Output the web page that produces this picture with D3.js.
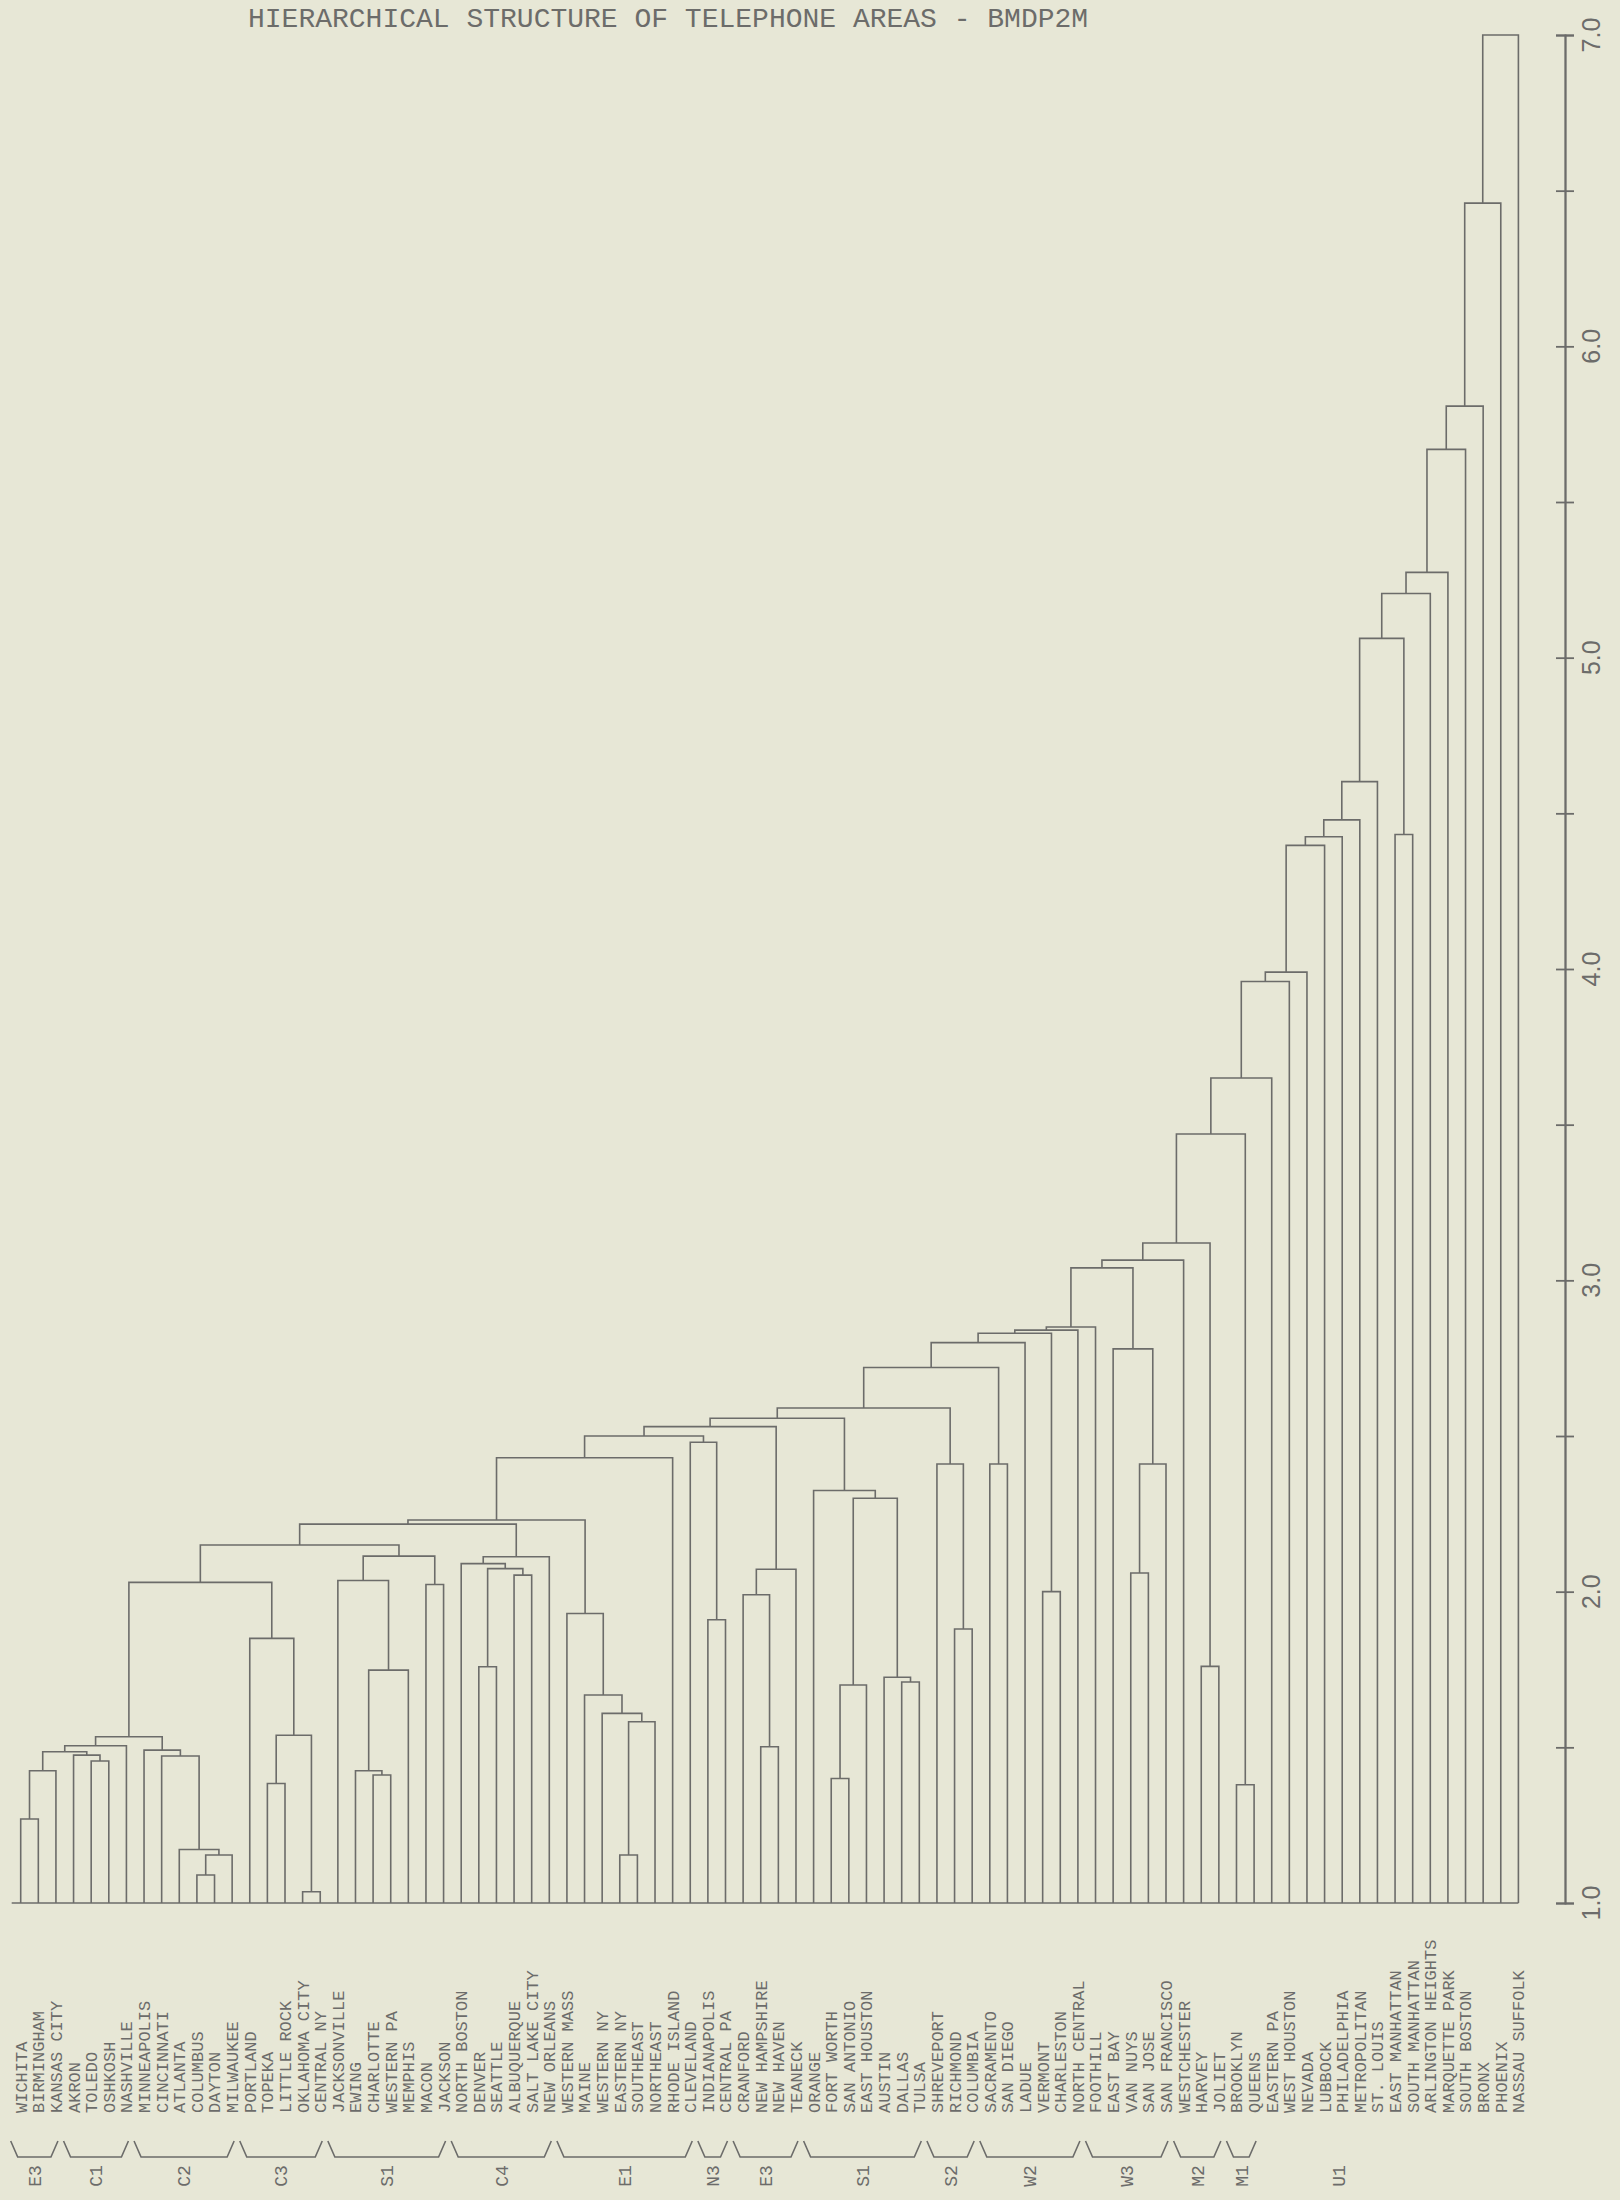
<!DOCTYPE html>
<html>
<head>
<meta charset="utf-8">
<script src="https://cdnjs.cloudflare.com/ajax/libs/d3/7.8.5/d3.min.js"></script>
<style>
  body { margin: 0; background: #e7e7d6; }
  svg { display: block; }
</style>
</head>
<body>
<div id="chart"></div>
<script>
// leaf order, left to right
const leaves = [
  "WICHITA", "BIRMINGHAM", "KANSAS CITY", "AKRON", "TOLEDO", "OSHKOSH", "NASHVILLE",
  "MINNEAPOLIS", "CINCINNATI", "ATLANTA", "COLUMBUS", "DAYTON", "MILWAUKEE",
  "PORTLAND", "TOPEKA", "LITTLE ROCK", "OKLAHOMA CITY", "CENTRAL NY",
  "JACKSONVILLE", "EWING", "CHARLOTTE", "WESTERN PA", "MEMPHIS", "MACON", "JACKSON",
  "NORTH BOSTON", "DENVER", "SEATTLE", "ALBUQUERQUE", "SALT LAKE CITY", "NEW ORLEANS",
  "WESTERN MASS", "MAINE", "WESTERN NY", "EASTERN NY", "SOUTHEAST", "NORTHEAST", "RHODE ISLAND",
  "CLEVELAND", "INDIANAPOLIS", "CENTRAL PA",
  "CRANFORD", "NEW HAMPSHIRE", "NEW HAVEN", "TEANECK",
  "ORANGE", "FORT WORTH", "SAN ANTONIO", "EAST HOUSTON", "AUSTIN", "DALLAS", "TULSA",
  "SHREVEPORT", "RICHMOND", "COLUMBIA",
  "SACRAMENTO", "SAN DIEGO", "LADUE", "VERMONT", "CHARLESTON", "NORTH CENTRAL",
  "FOOTHILL", "EAST BAY", "VAN NUYS", "SAN JOSE", "SAN FRANCISCO",
  "WESTCHESTER", "HARVEY", "JOLIET", "BROOKLYN", "QUEENS",
  "EASTERN PA", "WEST HOUSTON", "NEVADA", "LUBBOCK", "PHILADELPHIA", "METROPOLITAN",
  "ST. LOUIS", "EAST MANHATTAN", "SOUTH MANHATTAN", "ARLINGTON HEIGHTS",
  "MARQUETTE PARK", "SOUTH BOSTON", "BRONX", "PHOENIX", "NASSAU SUFFOLK"
];

// merges: [id, left, right, distance]
const merges = [
  ["a1", "WICHITA", "BIRMINGHAM", 1.27],
  ["a2", "a1", "KANSAS CITY", 1.425],
  ["a3", "TOLEDO", "OSHKOSH", 1.456],
  ["a4", "AKRON", "a3", 1.475],
  ["a5", "a2", "a4", 1.486],
  ["a6", "a5", "NASHVILLE", 1.505],
  ["b1", "COLUMBUS", "DAYTON", 1.09],
  ["b2", "b1", "MILWAUKEE", 1.154],
  ["b3", "ATLANTA", "b2", 1.172],
  ["b4", "CINCINNATI", "b3", 1.472],
  ["b5", "MINNEAPOLIS", "b4", 1.491],
  ["b6", "a6", "b5", 1.534],
  ["c1", "OKLAHOMA CITY", "CENTRAL NY", 1.036],
  ["c2", "TOPEKA", "LITTLE ROCK", 1.384],
  ["c3", "c2", "c1", 1.539],
  ["c4", "PORTLAND", "c3", 1.85],
  ["c5", "b6", "c4", 2.03],
  ["d1", "CHARLOTTE", "WESTERN PA", 1.411],
  ["d2", "EWING", "d1", 1.425],
  ["d3", "d2", "MEMPHIS", 1.748],
  ["d4", "JACKSONVILLE", "d3", 2.036],
  ["d5", "MACON", "JACKSON", 2.023],
  ["d6", "d4", "d5", 2.114],
  ["e1", "DENVER", "SEATTLE", 1.759],
  ["e2", "ALBUQUERQUE", "SALT LAKE CITY", 2.053],
  ["e3", "e1", "e2", 2.074],
  ["e4", "NORTH BOSTON", "e3", 2.09],
  ["e5", "e4", "NEW ORLEANS", 2.112],
  ["f1", "EASTERN NY", "SOUTHEAST", 1.154],
  ["f2", "f1", "NORTHEAST", 1.582],
  ["f3", "WESTERN NY", "f2", 1.609],
  ["f4", "MAINE", "f3", 1.668],
  ["f5", "WESTERN MASS", "f4", 1.93],
  ["g1", "c5", "d6", 2.15],
  ["g2", "g1", "e5", 2.217],
  ["g3", "g2", "f5", 2.23],
  ["g4", "g3", "RHODE ISLAND", 2.43],
  ["h1", "INDIANAPOLIS", "CENTRAL PA", 1.91],
  ["h2", "CLEVELAND", "h1", 2.48],
  ["i1", "NEW HAMPSHIRE", "NEW HAVEN", 1.502],
  ["i2", "CRANFORD", "i1", 1.99],
  ["i3", "i2", "TEANECK", 2.072],
  ["j1", "FORT WORTH", "SAN ANTONIO", 1.40],
  ["j2", "j1", "EAST HOUSTON", 1.70],
  ["j3", "DALLAS", "TULSA", 1.71],
  ["j4", "AUSTIN", "j3", 1.725],
  ["j5", "j2", "j4", 2.30],
  ["j6", "ORANGE", "j5", 2.325],
  ["k1", "RICHMOND", "COLUMBIA", 1.88],
  ["k2", "SHREVEPORT", "k1", 2.41],
  ["l1", "g4", "h2", 2.50],
  ["l2", "l1", "i3", 2.53],
  ["l3", "l2", "j6", 2.557],
  ["l4", "l3", "k2", 2.59],
  ["n1", "SACRAMENTO", "SAN DIEGO", 2.41],
  ["n2", "VERMONT", "CHARLESTON", 2.0],
  ["o1", "VAN NUYS", "SAN JOSE", 2.06],
  ["o2", "o1", "SAN FRANCISCO", 2.41],
  ["o3", "EAST BAY", "o2", 2.78],
  ["p1", "HARVEY", "JOLIET", 1.76],
  ["q1", "BROOKLYN", "QUEENS", 1.38],
  ["r1", "EAST MANHATTAN", "SOUTH MANHATTAN", 4.432],
  ["m2", "l4", "n1", 2.72],
  ["m3", "m2", "LADUE", 2.80],
  ["m4", "m3", "n2", 2.83],
  ["m5", "m4", "NORTH CENTRAL", 2.84],
  ["m6", "m5", "FOOTHILL", 2.85],
  ["m7", "m6", "o3", 3.04],
  ["m8", "m7", "WESTCHESTER", 3.065],
  ["m9", "m8", "p1", 3.12],
  ["m10", "m9", "q1", 3.47],
  ["m11", "m10", "EASTERN PA", 3.65],
  ["m12", "m11", "WEST HOUSTON", 3.96],
  ["m13", "m12", "NEVADA", 3.99],
  ["m14", "m13", "LUBBOCK", 4.397],
  ["m15", "m14", "PHILADELPHIA", 4.425],
  ["m16", "m15", "METROPOLITAN", 4.479],
  ["m17", "m16", "ST. LOUIS", 4.602],
  ["m18", "m17", "r1", 5.062],
  ["m19", "m18", "ARLINGTON HEIGHTS", 5.206],
  ["m20", "m19", "MARQUETTE PARK", 5.274],
  ["m21", "m20", "SOUTH BOSTON", 5.669],
  ["m22", "m21", "BRONX", 5.808],
  ["m23", "m22", "PHOENIX", 6.46],
  ["m24", "m23", "NASSAU SUFFOLK", 7.0]
];

// area groups under the labels
const groupLabels = ["E3", "C1", "C2", "C3", "S1", "C4", "E1", "N3", "E3", "S1", "S2", "W2", "W3", "M2", "M1"];
const groupFirst = ["WICHITA", "AKRON", "MINNEAPOLIS", "PORTLAND", "JACKSONVILLE", "NORTH BOSTON",
  "WESTERN MASS", "INDIANAPOLIS", "CRANFORD", "ORANGE", "SHREVEPORT", "SACRAMENTO", "FOOTHILL",
  "WESTCHESTER", "BROOKLYN"];
const groupLast = ["KANSAS CITY", "NASHVILLE", "MILWAUKEE", "CENTRAL NY", "JACKSON", "NEW ORLEANS",
  "CLEVELAND", "CENTRAL PA", "TEANECK", "TULSA", "COLUMBIA", "NORTH CENTRAL", "SAN FRANCISCO",
  "JOLIET", "QUEENS"];
const loneLabel = { text: "U1", leaf: "PHILADELPHIA" };

const tickValues = d3.range(1, 7.01, 0.5);
const tickLabels = ["1.0", "2.0", "3.0", "4.0", "5.0", "6.0", "7.0"];

const title = "HIERARCHICAL STRUCTURE OF TELEPHONE AREAS - BMDP2M";

const width = 1620, height = 2200;
const ink = "#6c6c6a";

const svg = d3.select("#chart").append("svg")
  .attr("width", width)
  .attr("height", height);

svg.append("rect").attr("width", width).attr("height", height).attr("fill", "#e7e7d6");

const x = d3.scaleLinear().domain([0, leaves.length - 1]).range([20.7, 1518.4]);
const y = d3.scaleLinear().domain([1, 7]).range([1903, 35]);

// build the tree from the merge table
const nodes = new Map();
leaves.forEach((name, i) => nodes.set(name, { name, dist: 1, x: x(i) }));
merges.forEach(([id, l, r, h]) => {
  const a = nodes.get(l), b = nodes.get(r);
  nodes.set(id, { name: id, dist: h, children: [a, b], x: (a.x + b.x) / 2 });
});
const root = d3.hierarchy(nodes.get(merges[merges.length - 1][0]));

// title at the top edge of the scan
svg.append("text")
  .attr("x", 248)
  .attr("y", 27)
  .attr("font-family", "Liberation Mono, monospace")
  .attr("font-size", 28)
  .attr("fill", ink)
  .text(title);

// baseline
svg.append("line")
  .attr("x1", x(0) - 9).attr("x2", x(leaves.length - 1))
  .attr("y1", y(1)).attr("y2", y(1))
  .attr("stroke", ink).attr("stroke-width", 1.6);

// elbows
svg.append("g")
  .selectAll("path")
  .data(root.descendants().filter(d => d.children))
  .join("path")
  .attr("fill", "none")
  .attr("stroke", ink)
  .attr("stroke-width", 1.6)
  .attr("d", d => {
    const [a, b] = d.children.map(c => c.data);
    return `M${a.x},${y(a.dist)}V${y(d.data.dist)}H${b.x}V${y(b.dist)}`;
  });

// leaf labels
svg.append("g")
  .selectAll("text")
  .data(leaves)
  .join("text")
  .attr("transform", (d, i) => `translate(${x(i)},2113) rotate(-90)`)
  .attr("dy", "0.35em")
  .attr("font-family", "Liberation Mono, monospace")
  .attr("font-size", 17)
  .attr("fill", ink)
  .text(d => d);

// group brackets
const groups = groupLabels.map((label, i) => ({
  label,
  x0: x(leaves.indexOf(groupFirst[i])) - 10,
  x1: x(leaves.indexOf(groupLast[i])) + 2
}));

svg.append("g")
  .selectAll("path")
  .data(groups)
  .join("path")
  .attr("fill", "none")
  .attr("stroke", ink)
  .attr("stroke-width", 1.6)
  .attr("d", g => `M${g.x0},2141L${g.x0 + 7},2157H${g.x1 - 7}L${g.x1},2141`);

const loneX = x(leaves.indexOf(loneLabel.leaf)) - 4;
svg.append("g")
  .selectAll("text")
  .data(groups.concat([{ label: loneLabel.text, x0: loneX, x1: loneX }]))
  .join("text")
  .attr("transform", g => `translate(${(g.x0 + g.x1) / 2},2176) rotate(-90)`)
  .attr("dy", "0.35em")
  .attr("text-anchor", "middle")
  .attr("font-family", "Liberation Mono, monospace")
  .attr("font-size", 18)
  .attr("fill", ink)
  .text(g => g.label);

// distance axis on the right
const axisX = 1565;
const axisG = svg.append("g").attr("transform", `translate(${axisX},0)`);
axisG.append("g").call(d3.axisRight(y).tickValues(tickValues).tickSize(9).tickFormat(""));
axisG.append("g").call(d3.axisLeft(y).tickValues(tickValues).tickSize(9).tickFormat(""));
axisG.selectAll("path, line").attr("stroke", ink).attr("stroke-width", 1.8);

axisG.append("g")
  .selectAll("text")
  .data(tickLabels)
  .join("text")
  .attr("transform", d => `translate(26,${y(+d)}) rotate(-90)`)
  .attr("dy", "0.35em")
  .attr("text-anchor", "middle")
  .attr("font-family", "Liberation Sans, sans-serif")
  .attr("font-size", 25)
  .attr("fill", ink)
  .text(d => d);
</script>
</body>
</html>
